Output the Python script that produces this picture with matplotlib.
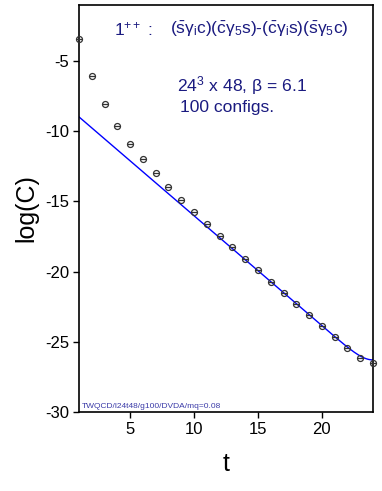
import numpy as np
import matplotlib
matplotlib.use("Agg")
import matplotlib.pyplot as plt

plt.rcParams['font.family'] = ['Liberation Sans', 'DejaVu Sans']
plt.rcParams['mathtext.fontset'] = 'custom'
plt.rcParams['mathtext.rm'] = 'Liberation Sans'
plt.rcParams['mathtext.it'] = 'Liberation Sans'
plt.rcParams['mathtext.default'] = 'regular'
plt.rcParams['axes.unicode_minus'] = False

# log of correlator vs time slice
t_vals = [1, 2, 3, 4, 5, 6, 7, 8, 9, 10, 11, 12,
          13, 14, 15, 16, 17, 18, 19, 20, 21, 22, 23, 24]
logC = [-3.43, -6.07, -8.06, -9.63, -10.90, -11.98, -12.98, -13.95,
        -14.90, -15.75, -16.59, -17.46, -18.27, -19.10, -19.90, -20.72,
        -21.50, -22.30, -23.09, -23.87, -24.66, -25.44, -26.15, -26.49]

# cosh fit parameters (log amplitude, mass, time extent)
fit_loga = -8.19
fit_mass = 0.7830
T_ext = 48
fit_range = (1, 24)

navy = '#1a1a80'

fig = plt.figure(figsize=(3.82, 4.91), dpi=100)
ax = fig.add_axes([0.2068, 0.1609, 0.7696, 0.8289])

tt = np.linspace(fit_range[0], fit_range[1], 300)
fit = fit_loga + np.log(np.exp(-fit_mass * tt) + np.exp(-fit_mass * (T_ext - tt)))
ax.plot(tt, fit, color='#0000ff', lw=1.0, zorder=2)

ax.plot(t_vals, logC, ls='none', marker='o', ms=4.3, mfc='none', mec='#333333',
        mew=0.9, zorder=3, clip_on=False)
ax.plot(t_vals, logC, ls='none', marker='_', ms=4.3, mec='#333333',
        mew=0.9, zorder=3, clip_on=False)

ax.set_xlim(1, 24)
ax.set_ylim(-30, -1)
ax.set_xticks([5, 10, 15, 20])
ax.set_yticks([-30, -25, -20, -15, -10, -5])
ax.tick_params(direction='out', length=4, width=1, labelsize=12, pad=3)
for s in ax.spines.values():
    s.set_linewidth(1.2)

ax.set_xlabel('t', fontsize=18, labelpad=11)
ax.set_ylabel('log(C)', fontsize=18, labelpad=5)

ax.text(0.12, 0.94, r'1$^{++}$ :', transform=ax.transAxes, fontsize=12.5,
        color=navy, va='center', ha='left')
ax.text(0.31, 0.94,
        r'$(\bar{s}\gamma_i c)(\bar{c}\gamma_5 s)$-$(\bar{c}\gamma_i s)(\bar{s}\gamma_5 c)$',
        transform=ax.transAxes, fontsize=12.5, color=navy, va='center', ha='left')
ax.text(0.335, 0.803, r'24$^3$ x 48, $\beta$ = 6.1', transform=ax.transAxes,
        fontsize=12.6, color=navy, va='center', ha='left')
ax.text(0.342, 0.747, '100 configs.', transform=ax.transAxes,
        fontsize=12.6, color=navy, va='center', ha='left')
ax.text(0.01, 0.006, 'TWQCD/l24t48/g100/DVDA/mq=0.08', transform=ax.transAxes,
        fontsize=6.0, color='#3b3ba8', va='bottom', ha='left')

fig.savefig('out.png', dpi=100)
